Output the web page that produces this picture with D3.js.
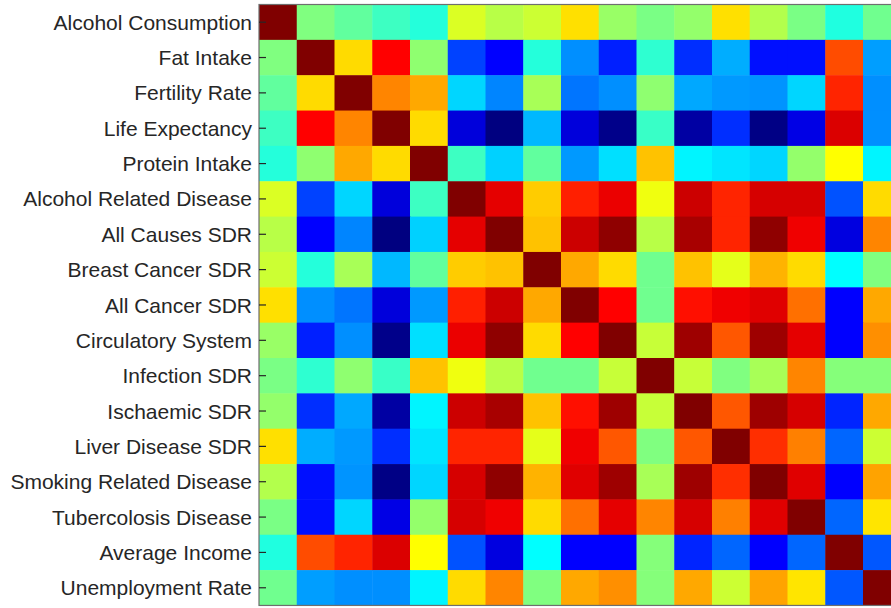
<!DOCTYPE html>
<html>
<head>
<meta charset="utf-8">
<script src="https://cdn.jsdelivr.net/npm/d3@7"></script>
<style>
  html, body { margin: 0; padding: 0; background: #fff; overflow: hidden; }
  svg { display: block; }
</style>
</head>
<body>
<svg id="chart" width="891" height="608"></svg>
<script>
const variables = [
  "Alcohol Consumption", "Fat Intake", "Fertility Rate", "Life Expectancy",
  "Protein Intake", "Alcohol Related Disease", "All Causes SDR", "Breast Cancer SDR",
  "All Cancer SDR", "Circulatory System", "Infection SDR", "Ischaemic SDR",
  "Liver Disease SDR", "Smoking Related Disease", "Tubercolosis Disease",
  "Average Income", "Unemployment Rate"
];

// Correlation matrix rows
const rowAlcoholConsumption = [1.00, 0.00, -0.06, -0.13, -0.18, 0.18, 0.11, 0.15, 0.31, 0.05, -0.01, 0.04, 0.31, 0.10, -0.01, -0.19, -0.03];
const rowFatIntake          = [0.00, 1.00, 0.32, 0.75, 0.03, -0.62, -0.75, -0.18, -0.47, -0.69, -0.16, -0.66, -0.41, -0.72, -0.72, 0.60, -0.44];
const rowFertilityRate      = [-0.06, 0.32, 1.00, 0.49, 0.42, -0.33, -0.49, 0.08, -0.52, -0.47, 0.03, -0.42, -0.45, -0.46, -0.33, 0.68, -0.47];
const rowLifeExpectancy     = [-0.13, 0.75, 0.49, 1.00, 0.32, -0.82, -1.00, -0.39, -0.82, -0.98, -0.14, -0.93, -0.66, -0.99, -0.80, 0.82, -0.47];
const rowProteinIntake      = [-0.18, 0.03, 0.42, 0.32, 1.00, -0.13, -0.34, -0.06, -0.45, -0.31, 0.37, -0.27, -0.30, -0.33, 0.04, 0.25, -0.27];
const rowAlcoholRelated     = [0.18, -0.62, -0.33, -0.82, -0.13, 1.00, 0.80, 0.35, 0.69, 0.79, 0.22, 0.85, 0.68, 0.83, 0.83, -0.59, 0.32];
const rowAllCauses          = [0.11, -0.75, -0.49, -1.00, -0.34, 0.80, 1.00, 0.37, 0.85, 0.97, 0.11, 0.92, 0.68, 0.97, 0.78, -0.81, 0.49];
const rowBreastCancer       = [0.15, -0.18, 0.08, -0.39, -0.06, 0.35, 0.37, 1.00, 0.42, 0.32, -0.03, 0.37, 0.20, 0.40, 0.32, -0.25, 0.00];
const rowAllCancer          = [0.31, -0.47, -0.52, -0.82, -0.45, 0.69, 0.85, 0.42, 1.00, 0.75, -0.03, 0.72, 0.78, 0.81, 0.53, -0.75, 0.42];
const rowCirculatory        = [0.05, -0.69, -0.47, -0.98, -0.31, 0.79, 0.97, 0.32, 0.75, 1.00, 0.14, 0.94, 0.58, 0.94, 0.80, -0.75, 0.47];
const rowInfection          = [-0.01, -0.16, 0.03, -0.14, 0.37, 0.22, 0.11, -0.03, -0.03, 0.14, 1.00, 0.14, 0.00, 0.08, 0.49, 0.01, 0.01];
const rowIschaemic          = [0.04, -0.66, -0.42, -0.93, -0.27, 0.85, 0.92, 0.37, 0.72, 0.94, 0.14, 1.00, 0.58, 0.94, 0.83, -0.68, 0.42];
const rowLiverDisease       = [0.31, -0.41, -0.45, -0.66, -0.30, 0.68, 0.68, 0.20, 0.78, 0.58, 0.00, 0.58, 1.00, 0.66, 0.50, -0.55, 0.15];
const rowSmokingRelated     = [0.10, -0.72, -0.46, -0.99, -0.33, 0.83, 0.97, 0.40, 0.81, 0.94, 0.08, 0.94, 0.66, 1.00, 0.81, -0.75, 0.43];
const rowTubercolosis       = [-0.01, -0.72, -0.33, -0.80, 0.04, 0.83, 0.78, 0.32, 0.53, 0.80, 0.49, 0.83, 0.50, 0.81, 1.00, -0.55, 0.30];
const rowAverageIncome      = [-0.19, 0.60, 0.68, 0.82, 0.25, -0.59, -0.81, -0.25, -0.75, -0.75, 0.01, -0.68, -0.55, -0.75, -0.55, 1.00, -0.58];
const rowUnemployment       = [-0.03, -0.44, -0.47, -0.47, -0.27, 0.32, 0.49, 0.00, 0.42, 0.47, 0.01, 0.42, 0.15, 0.43, 0.30, -0.58, 1.00];

const matrix = [
  rowAlcoholConsumption, rowFatIntake, rowFertilityRate, rowLifeExpectancy,
  rowProteinIntake, rowAlcoholRelated, rowAllCauses, rowBreastCancer,
  rowAllCancer, rowCirculatory, rowInfection, rowIschaemic, rowLiverDisease,
  rowSmokingRelated, rowTubercolosis, rowAverageIncome, rowUnemployment
];

// MATLAB jet colormap interpolator
function jet(t) {
  const c = v => Math.max(0, Math.min(1, v));
  const r = c(1.5 - Math.abs(4 * t - 3));
  const g = c(1.5 - Math.abs(4 * t - 2));
  const b = c(1.5 - Math.abs(4 * t - 1));
  return d3.rgb(r * 255, g * 255, b * 255).toString();
}

const svg = d3.select("#chart");
const plotLeft = 259, plotTop = 4.5, cellW = 37.75, cellH = 35.35;
const n = variables.length;

const x = d3.scaleBand().domain(variables).range([plotLeft, plotLeft + n * cellW]).padding(0);
const y = d3.scaleBand().domain(variables).range([plotTop, plotTop + n * cellH]).padding(0);
const color = d3.scaleSequential(jet).domain([-1, 1]);

const cells = [];
matrix.forEach((row, i) => row.forEach((v, j) => cells.push({ r: variables[i], c: variables[j], v })));

svg.append("g")
  .selectAll("rect")
  .data(cells)
  .join("rect")
  .attr("x", d => x(d.c))
  .attr("y", d => y(d.r))
  .attr("width", x.bandwidth() + 0.5)
  .attr("height", y.bandwidth() + 0.5)
  .attr("fill", d => color(d.v));

// Axes box
svg.append("rect")
  .attr("x", plotLeft)
  .attr("y", plotTop)
  .attr("width", n * cellW)
  .attr("height", n * cellH)
  .attr("fill", "none")
  .attr("stroke", "#6e6e6e")
  .attr("stroke-width", 1.2);

// Inward tick marks
const tickAxis = svg.append("g")
  .attr("transform", `translate(${plotLeft},0)`)
  .call(d3.axisRight(y).tickSize(7).tickFormat(""));
tickAxis.select(".domain").remove();
tickAxis.selectAll("line").attr("stroke", "#262626").attr("stroke-width", 1.2);

// Labels
const labelAxis = svg.append("g")
  .attr("transform", `translate(${plotLeft},0.8)`)
  .call(d3.axisLeft(y).tickSize(0).tickPadding(7));
labelAxis.select(".domain").remove();
labelAxis.selectAll("text")
  .attr("fill", "#262626")
  .style("font-family", "'Liberation Sans', Arial, Helvetica, sans-serif")
  .style("font-size", "21px");
</script>
</body>
</html>
